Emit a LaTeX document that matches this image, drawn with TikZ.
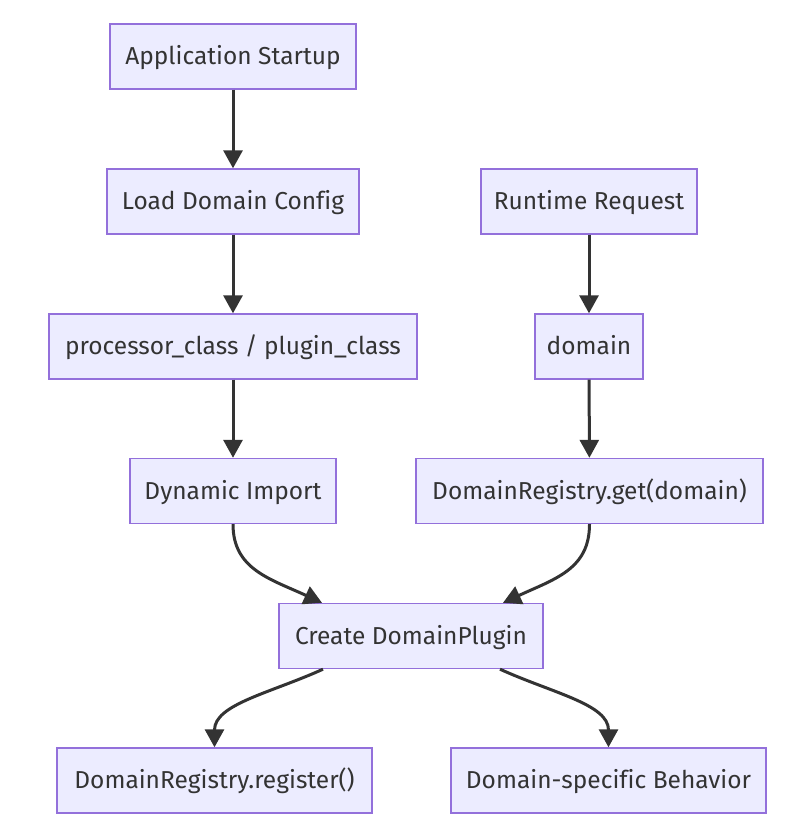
\documentclass[tikz,border=0pt]{standalone}
\usepackage{fontspec}
\setmainfont{Fira Sans}[Ligatures=NoCommon]
\usetikzlibrary{arrows.meta}
\definecolor{nodefill}{HTML}{ECECFF}
\definecolor{nodeborder}{HTML}{9370DB}
\definecolor{edgecol}{HTML}{333333}
\definecolor{textcol}{HTML}{333333}
\begin{document}
\begin{tikzpicture}[x=1pt,y=-1pt,
  box/.style={draw=nodeborder,fill=nodefill,line width=1.4pt,rectangle,
    minimum height=65pt,inner sep=0pt,text=textcol,text height=19pt,text depth=3pt,
    font=\fontsize{24.5}{29}\selectfont},
  edge/.style={draw=edgecol,line width=3pt,
    -{Triangle[length=18pt,width=19pt]}}]
\useasboundingbox (0,0) rectangle (806,824);
\node[box,minimum width=246pt] (start) at (233,56.5) {Application Startup};
\node[box,minimum width=252pt] (load) at (233,201.5) {Load Domain Config};
\node[box,minimum width=216pt] (req) at (589,201.5) {Runtime Request};
\node[box,minimum width=368pt] (cls) at (233,346.5) {processor\_class / plugin\_class};
\node[box,minimum width=108pt] (dom) at (589,346.5) {domain};
\node[box,minimum width=206pt] (imp) at (233,491) {Dynamic Import};
\node[box,minimum width=347pt] (get) at (589.5,491) {DomainRegistry.get(domain)};
\node[box,minimum width=264pt] (create) at (411,636) {Create DomainPlugin};
\node[box,minimum width=315pt] (reg) at (214.5,780.5) {DomainRegistry.register()};
\node[box,minimum width=315pt] (beh) at (608.5,780.5) {Domain-specific Behavior};
\draw[edge] (start) -- (load);
\draw[edge] (load) -- (cls);
\draw[edge] (cls) -- (imp);
\draw[edge] (req) -- (dom);
\draw[edge] (dom) -- (get);
\draw[edge] (imp.south) .. controls ([yshift=-45pt]imp.south) and ([xshift=-141pt,yshift=24pt]create.north) .. ([xshift=-89pt]create.north);
\draw[edge] (get.south) .. controls ([yshift=-45pt]get.south) and ([xshift=144pt,yshift=24pt]create.north) .. ([xshift=92pt]create.north);
\draw[edge] ([xshift=-88pt]create.south) .. controls ([xshift=-141pt,yshift=-24pt]create.south) and ([yshift=43pt]reg.north) .. (reg.north);
\draw[edge] ([xshift=89pt]create.south) .. controls ([xshift=142pt,yshift=-24pt]create.south) and ([yshift=43pt]beh.north) .. (beh.north);
\end{tikzpicture}
\end{document}
